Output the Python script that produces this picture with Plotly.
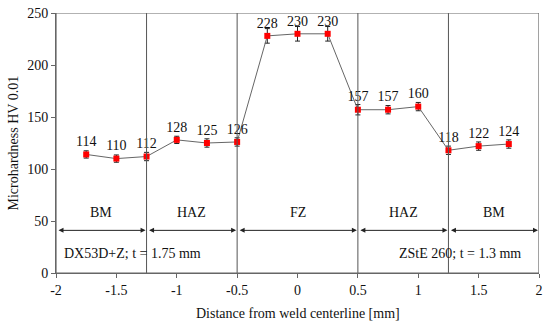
import plotly.graph_objects as go

distance = [-1.75, -1.5, -1.25, -1.0, -0.75, -0.5, -0.25, 0.0, 0.25, 0.5, 0.75, 1.0, 1.25, 1.5, 1.75]
hardness = [114, 110, 112, 128, 125, 126, 228, 230, 230, 157, 157, 160, 118, 122, 124]
errors = [3.5, 3.5, 4, 3.5, 4, 4, 7, 7, 7, 5, 4, 4, 4, 4, 4]
labels = [str(v) for v in hardness]

zone_bounds = [-2.0, -1.25, -0.5, 0.5, 1.25, 2.0]
zone_names = ["BM", "HAZ", "FZ", "HAZ", "BM"]
zone_arrow_y = 41
zone_label_y = 49

font_family = "Liberation Serif, Times New Roman, serif"
txt = "#111111"

fig = go.Figure()
fig.add_trace(go.Scatter(
    x=distance, y=hardness,
    mode="lines+markers+text",
    text=labels, textposition="top center",
    textfont=dict(family=font_family, size=14, color=txt),
    line=dict(color="#666666", width=1),
    marker=dict(symbol="square", color="#ff0000", size=6),
    error_y=dict(type="data", array=errors, color="#222222", thickness=1, width=2.5),
    showlegend=False,
    cliponaxis=False,
    hoverinfo="skip",
))

shapes = []
for b in zone_bounds[1:-1]:
    shapes.append(dict(type="line", xref="x", yref="y", x0=b, x1=b, y0=0, y1=250,
                       line=dict(color="#555555", width=1)))
shapes.append(dict(type="rect", xref="x", yref="y", x0=-2, x1=2, y0=0, y1=250,
                   line=dict(color="#666666", width=1.2)))

annotations = []
for i, name in enumerate(zone_names):
    x0, x1 = zone_bounds[i], zone_bounds[i + 1]
    annotations.append(dict(
        x=x1, y=zone_arrow_y, ax=x0, ay=zone_arrow_y,
        xref="x", yref="y", axref="x", ayref="y",
        showarrow=True, arrowhead=2, startarrowhead=2, arrowside="end+start",
        arrowsize=1, arrowwidth=1, arrowcolor="#222222", text="",
        standoff=1, startstandoff=1,
    ))
    annotations.append(dict(
        x=(x0 + x1) / 2, y=zone_label_y, xref="x", yref="y",
        text=name, showarrow=False, yanchor="bottom",
        font=dict(family=font_family, size=14, color=txt),
    ))

annotations.append(dict(x=-1.95, y=19, xref="x", yref="y", text="DX53D+Z; t = 1.75 mm",
                        showarrow=False, xanchor="left",
                        font=dict(family=font_family, size=14, color=txt)))
annotations.append(dict(x=1.87, y=19, xref="x", yref="y", text="ZStE 260; t = 1.3 mm",
                        showarrow=False, xanchor="right",
                        font=dict(family=font_family, size=14, color=txt)))
annotations.append(dict(x=0.5, y=-0.12, xref="paper", yref="paper",
                        text="Distance from weld centerline [mm]", showarrow=False,
                        yanchor="top", font=dict(family=font_family, size=14, color=txt)))
annotations.append(dict(x=-0.09, y=0.5, xref="paper", yref="paper",
                        text="Microhardness HV 0.01", showarrow=False, textangle=-90,
                        xanchor="center", font=dict(family=font_family, size=14, color=txt)))

fig.update_layout(
    width=550, height=325,
    margin=dict(l=56, r=11, t=13, b=52),
    paper_bgcolor="white", plot_bgcolor="white",
    shapes=shapes, annotations=annotations,
    font=dict(family=font_family, size=14, color=txt),
    hovermode=False,
    xaxis=dict(range=[-2, 2], tickmode="array",
               tickvals=[-2, -1.5, -1, -0.5, 0, 0.5, 1, 1.5, 2],
               ticktext=["-2", "-1.5", "-1", "-0.5", "0", "0.5", "1", "1.5", "2"],
               showgrid=False, zeroline=False, showline=True, linecolor="#666666",
               ticks="outside", ticklen=4, tickcolor="#666666", automargin=False,
               tickfont=dict(family=font_family, size=14, color=txt)),
    yaxis=dict(range=[0, 250], tickvals=[0, 50, 100, 150, 200, 250],
               showgrid=False, zeroline=False, showline=True, linecolor="#666666",
               ticks="outside", ticklen=4, tickcolor="#666666", automargin=False,
               tickfont=dict(family=font_family, size=14, color=txt)),
)

fig.write_html("out.html", config={"displayModeBar": False},
               post_script="document.body.style.margin='0';")
